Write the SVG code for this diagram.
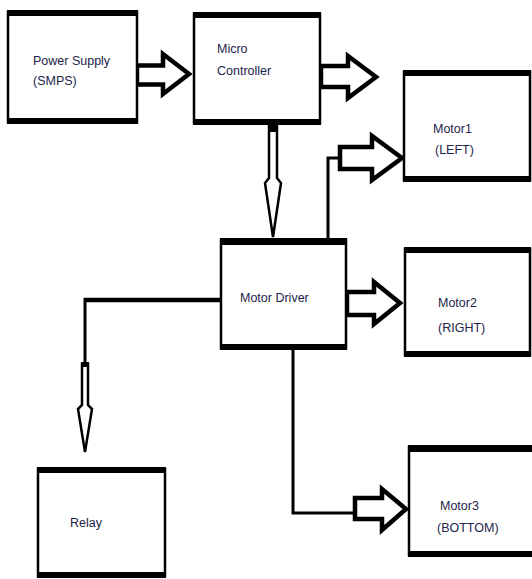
<svg xmlns="http://www.w3.org/2000/svg" width="532" height="579" viewBox="0 0 532 579">
<style>
.box{fill:#fff;stroke:#000;stroke-width:2.5}
.bar{fill:#000}
.lbl{font-family:"Liberation Sans",Arial,sans-serif;font-size:12.5px;fill:#23234a}
.blk{fill:#fff;stroke:#000;stroke-width:4.5;stroke-linejoin:miter;stroke-miterlimit:10}
.thin{fill:#fff;stroke:#000;stroke-width:2.5;stroke-linejoin:miter}
.wire{fill:none;stroke:#000;stroke-width:3}
</style>
<rect width="532" height="579" fill="#fff"/>
<g id="connectors">
  <polygon class="blk" points="137,65.5 163,65.5 163,54 189,74 163,94 163,84.5 137,84.5"/>
  <polygon class="blk" points="321,66 348,66 348,56 376,77 348,98 348,87 321,87"/>
  <polygon class="thin" points="269,125 277,125 277,178 281,183 273,237 265,183 269,178"/>
  <rect x="268" y="125" width="10" height="7" fill="#000"/>
  <polyline class="wire" points="328,238 328,158 340,158"/>
  <polygon class="blk" points="340,147 372,147 372,136 402,158 372,180 372,169 340,169"/>
  <polygon class="blk" points="347,292 374,292 374,282 400,303 374,324 374,315 347,315"/>
  <line x1="220" y1="300" x2="84" y2="300" stroke="#000" stroke-width="4.5"/>
  <line x1="85" y1="298" x2="85" y2="363" stroke="#000" stroke-width="3"/>
  <polygon class="thin" points="82,364 88,364 88,405 92,409 85,452 78,409 82,405"/>
  <rect x="81" y="362" width="8" height="5" fill="#000"/>
  <polyline class="wire" points="293,350 293,513 355,513" stroke-width="4"/>
  <polygon class="blk" points="355,498 382,498 382,489 406,509 382,530 382,519 355,519"/>
</g>
<g id="power-supply">
  <rect class="box" x="8" y="12" width="129" height="110"/>
  <rect class="bar" x="7" y="10" width="131" height="6"/>
  <rect class="bar" x="7" y="118" width="131" height="6"/>
  <text class="lbl" x="33" y="65">Power Supply</text>
  <text class="lbl" x="33" y="85">(SMPS)</text>
</g>
<g id="micro-controller">
  <rect class="box" x="194" y="14" width="126" height="109"/>
  <rect class="bar" x="193" y="12" width="128" height="6"/>
  <rect class="bar" x="193" y="119" width="128" height="6"/>
  <text class="lbl" x="217" y="53">Micro</text>
  <text class="lbl" x="217" y="75">Controller</text>
</g>
<g id="motor1">
  <rect class="box" x="404" y="72" width="126" height="108"/>
  <rect class="bar" x="403" y="70" width="128" height="6"/>
  <rect class="bar" x="403" y="176" width="128" height="6"/>
  <text class="lbl" x="433" y="133">Motor1</text>
  <text class="lbl" x="435" y="154">(LEFT)</text>
</g>
<g id="motor-driver">
  <rect class="box" x="221" y="240" width="125" height="108"/>
  <rect class="bar" x="220" y="238" width="127" height="7"/>
  <rect class="bar" x="220" y="344" width="127" height="6"/>
  <text class="lbl" x="240" y="302">Motor Driver</text>
</g>
<g id="motor2">
  <rect class="box" x="405" y="249" width="125" height="106"/>
  <rect class="bar" x="404" y="247" width="127" height="6"/>
  <rect class="bar" x="404" y="351" width="127" height="6"/>
  <text class="lbl" x="438" y="307">Motor2</text>
  <text class="lbl" x="438" y="332">(RIGHT)</text>
</g>
<g id="relay">
  <rect class="box" x="38" y="469" width="127" height="107"/>
  <rect class="bar" x="37" y="467" width="129" height="6"/>
  <rect class="bar" x="37" y="572" width="129" height="6"/>
  <text class="lbl" x="70" y="527">Relay</text>
</g>
<g id="motor3">
  <rect class="box" x="409" y="447" width="130" height="108"/>
  <rect class="bar" x="408" y="445" width="132" height="7"/>
  <rect class="bar" x="408" y="551" width="132" height="6"/>
  <text class="lbl" x="440" y="510">Motor3</text>
  <text class="lbl" x="437" y="532">(BOTTOM)</text>
</g>
</svg>
